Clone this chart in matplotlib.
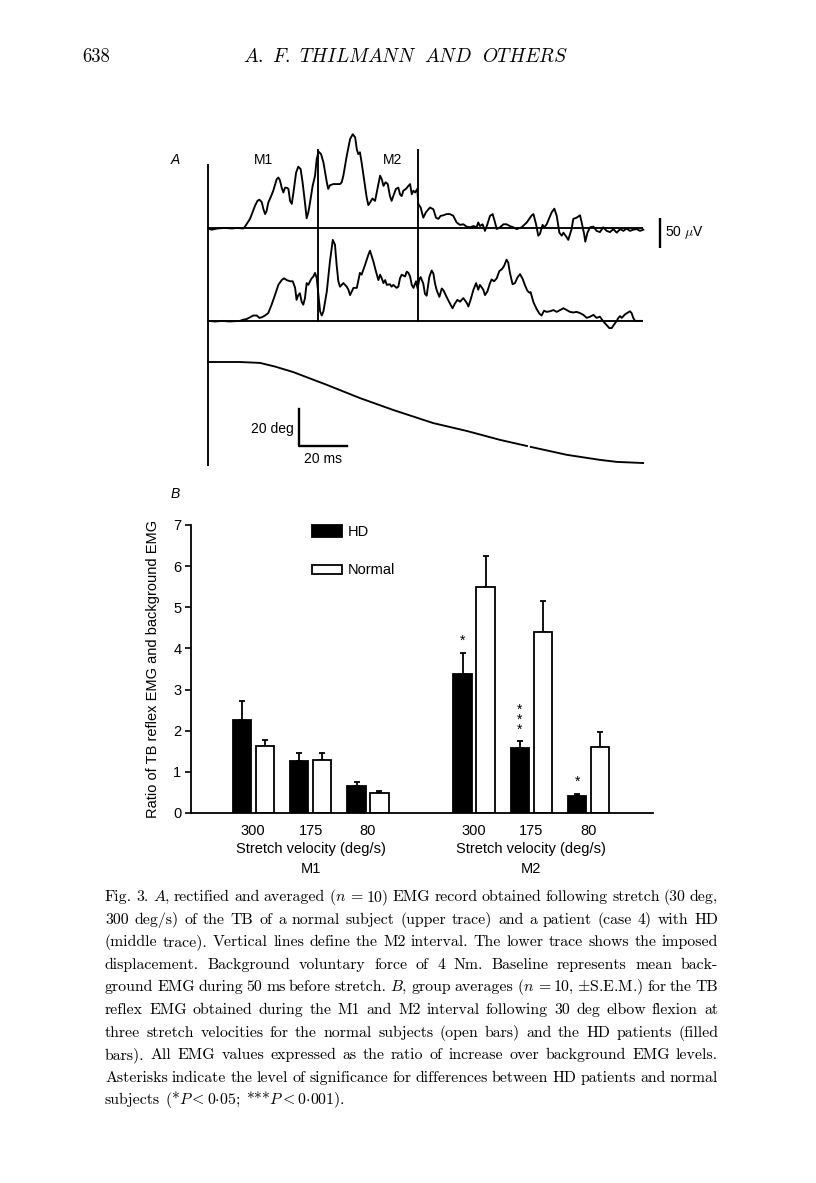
import matplotlib
matplotlib.use('Agg')
import matplotlib.pyplot as plt
from matplotlib.patches import Rectangle
import numpy as np

plt.rcParams['font.family'] = 'Liberation Sans'
plt.rcParams['mathtext.fontset'] = 'cm'

W, H = 816, 1183

# ---- A: traces (ms after stretch onset, value above baseline) ----
upper_trace = [  # uV, normal subject
    (0.1, 0), (1.5, -2), (4, 0), (7, 1), (10, 0), (12, 1), (14.7, 0), (15.4, 3), (17.5, 16),
    (19.6, 38), (20.6, 46), (21.4, 48), (22.4, 44), (23.1, 32), (23.8, 24), (24.4, 29),
    (25.1, 43), (26.1, 52), (27.2, 63), (28.6, 82), (29.3, 85), (30.0, 80), (30.7, 68),
    (31.4, 60), (32.1, 68), (32.8, 68), (33.5, 66), (34.2, 46), (34.9, 41), (35.6, 60),
    (36.7, 93), (37.6, 103), (38.6, 99), (39.4, 77), (40.4, 43), (41.1, 17), (41.8, 27),
    (42.5, 43), (43.6, 71), (44.6, 88), (45.3, 116), (46.1, 128), (47.1, 124), (48.1, 110),
    (49.5, 77), (50.1, 66), (50.8, 72), (52.2, 74), (53.6, 74), (55.0, 74), (55.7, 77),
    (56.4, 88), (57.8, 121), (59.2, 149), (60.3, 157), (61.3, 152), (62.0, 132), (62.6, 124),
    (63.3, 127), (64.0, 110), (65.0, 82), (66.1, 52), (66.8, 39), (67.5, 43), (68.5, 50),
    (69.6, 46), (70.6, 66), (71.7, 88), (72.4, 82), (73.1, 71), (74.0, 77), (74.9, 74),
    (75.8, 54), (76.5, 46), (77.2, 54), (78.3, 66), (79.3, 68), (80.0, 57), (80.7, 54),
    (81.4, 63), (82.5, 66), (83.5, 71), (84.2, 74), (84.9, 57), (85.6, 63), (86.3, 60),
    (87.2, 66), (87.6, 41), (88.6, 35), (89.7, 18), (90.8, 27), (92.5, 35), (93.9, 32),
    (95.0, 18), (96.0, 16), (96.9, 21), (98.1, 22), (99.4, 24), (100.8, 24), (102.2, 21),
    (103.6, 10), (105.0, 6), (106.4, 7), (107.8, 3), (109.2, 2), (110.6, 4), (111.9, 2),
    (112.6, 10), (113.3, 4), (114.4, 7), (115.4, -4), (116.4, 7), (117.5, 21), (118.6, 24),
    (119.6, 10), (120.3, -1), (121.7, 2), (123.1, 7), (124.4, 7), (125.8, 4), (127.2, 2),
    (128.6, -1), (130.7, 2), (132.8, 10), (134.9, 22), (135.6, 24), (136.7, 7), (137.6, -12),
    (138.3, -9), (139.4, 6), (140.1, 2), (141.1, 7), (143.2, 27), (144.3, 33), (145.3, 21),
    (146.4, -7), (147.4, -12), (148.1, -7), (149.5, -15), (150.1, -19), (151.5, -1),
    (152.2, 16), (153.6, 18), (155.0, 22), (155.7, 10), (156.7, -9), (157.2, -22), (158.1, -7),
    (159.2, 2), (160.6, 3), (161.9, -4), (163.3, -6), (164.7, 2), (166.1, -4), (167.5, -6),
    (168.9, -1), (170.3, -7), (171.7, -1), (173.1, -4), (174.4, 0), (175.8, -4), (177.2, -2),
    (178.6, -1), (180.0, -4), (181.4, -2),
]
middle_trace = [  # uV, HD patient
    (0.1, 1), (3, 0), (6, 1), (9, 0), (13.3, 1), (14.7, 3), (16.1, 4), (17.5, 7), (18.9, 10),
    (20.3, 10), (21.4, 6), (22.4, 7), (23.8, 10), (25.1, 14), (26.5, 28), (27.9, 44), (29.3, 61),
    (30.7, 69), (31.7, 72), (32.8, 69), (34.2, 67), (35.3, 67), (36.3, 56), (36.9, 36),
    (37.6, 44), (38.3, 47), (39.0, 33), (39.7, 28), (40.4, 39), (41.1, 64), (41.8, 61),
    (42.5, 67), (43.2, 72), (43.9, 75), (44.6, 81), (45.3, 72), (46.0, 44), (46.7, 17),
    (47.4, 10), (48.1, 17), (49.5, 50), (50.8, 100), (52.0, 136), (52.9, 128), (53.6, 94),
    (54.3, 67), (55.0, 58), (55.7, 61), (56.4, 64), (57.1, 61), (57.8, 58), (58.5, 53),
    (59.2, 44), (59.9, 50), (60.6, 56), (62.0, 56), (63.3, 81), (64.0, 78), (65.4, 94),
    (66.8, 111), (67.5, 118), (68.9, 100), (70.0, 83), (71.0, 69), (71.7, 78), (72.4, 72),
    (73.1, 64), (73.8, 69), (74.5, 61), (75.8, 62), (76.5, 58), (77.2, 61), (78.6, 56),
    (79.3, 58), (80.0, 72), (80.7, 78), (82.1, 75), (82.8, 83), (83.5, 81), (84.2, 75),
    (84.9, 61), (85.6, 56), (86.7, 67), (87.3, 55), (88.1, 71), (88.6, 74), (89.7, 63),
    (90.4, 46), (91.1, 43), (92.2, 74), (93.2, 85), (93.9, 80), (94.6, 63), (95.3, 52),
    (96.4, 41), (97.4, 55), (98.1, 52), (99.4, 41), (100.8, 30), (101.9, 22), (102.9, 30),
    (103.9, 36), (105.0, 33), (106.4, 39), (107.8, 31), (108.5, 25), (109.4, 36), (110.6, 53),
    (111.7, 64), (112.6, 53), (113.3, 61), (114.7, 53), (115.4, 44), (116.4, 50), (117.5, 64),
    (118.2, 70), (119.2, 67), (120.3, 72), (121.4, 84), (122.4, 87), (123.3, 92), (124.4, 103),
    (125.1, 98), (125.8, 81), (126.9, 62), (127.9, 64), (128.9, 73), (130.0, 79), (131.1, 71),
    (132.1, 60), (133.1, 51), (133.9, 48), (134.4, 49), (135.6, 32), (136.9, 21), (138.1, 13),
    (139.0, 10), (140.0, 18), (141.1, 16), (142.5, 17), (143.9, 19), (145.3, 16), (146.7, 19),
    (148.1, 22), (149.5, 19), (150.8, 16), (152.2, 15), (153.6, 16), (155.0, 14), (156.4, 11),
    (157.8, 6), (159.2, 8), (160.6, 11), (161.9, 6), (163.3, 8), (164.7, 0), (166.1, -6),
    (167.2, -11), (168.2, -11), (169.2, -5), (170.3, 1), (171.0, 6), (171.7, 9), (172.4, 6),
    (173.8, 12), (175.8, 17), (176.5, 14), (177.2, 6), (177.9, 1), (179.3, 1), (180.7, 1),
]
displacement = [  # deg
    (0, 0), (13.3, 0), (21.7, -0.5), (28, -2.5), (35.4, -5.4), (49.6, -12.4), (63.3, -19.5),
    (77.1, -25.9), (93.8, -33), (107.9, -37.3), (121.7, -42.1), (132.9, -45.4),
    (133.6, np.nan), (134.5, -45.9), (149.6, -50.2), (163.3, -52.9), (170.4, -54), (181.3, -54.6),
]
m_lines_ms = [45.8, 87.3]

# ---- B: group means and S.E.M. ----
velocities = ['300', '175', '80']
hd_m1 = [2.26, 1.26, 0.66]
hd_m1_sem = [0.46, 0.20, 0.09]
normal_m1 = [1.63, 1.29, 0.49]
normal_m1_sem = [0.14, 0.17, 0.04]
hd_m2 = [3.39, 1.59, 0.41]
hd_m2_sem = [0.50, 0.15, 0.06]
normal_m2 = [5.50, 4.41, 1.60]
normal_m2_sem = [0.75, 0.74, 0.38]
signif_m2 = ['*', '***', '*']

caption = [
    r"Fig. 3. $A$, rectified and averaged ($n$ = 10) EMG record obtained following stretch (30 deg,",
    r"300 deg/s) of the TB of a normal subject (upper trace) and a patient (case 4) with HD",
    r"(middle trace). Vertical lines define the M2 interval. The lower trace shows the imposed",
    r"displacement. Background voluntary force of 4 Nm. Baseline represents mean back-",
    r"ground EMG during 50 ms before stretch. $B$, group averages ($n$ = 10, $\pm$S.E.M.) for the TB",
    r"reflex EMG obtained during the M1 and M2 interval following 30 deg elbow flexion at",
    r"three stretch velocities for the normal subjects (open bars) and the HD patients (filled",
    r"bars). All EMG values expressed as the ratio of increase over background EMG levels.",
    r"Asterisks indicate the level of significance for differences between HD patients and normal",
    r"subjects (*$P<0{\cdot}05$; ***$P<0{\cdot}001$).",
]

fig = plt.figure(figsize=(W / 100, H / 100), dpi=100)


def px_axes(x0, y0, x1, y1):
    return fig.add_axes([x0 / W, 1 - y1 / H, (x1 - x0) / W, (y1 - y0) / H])


def fig_text(x, y, s, **kw):
    return fig.text(x / W, 1 - y / H, s, **kw)


# header
fig_text(82, 62, '638', family='cmr10', fontsize=13.5, va='baseline')
fig_text(243, 62, r'$A.\ F.\ THILMANN\ \ AND\ \ OTHERS$', fontsize=14, va='baseline')

# ---------------- panel A ----------------
lw = 1.35
axA = px_axes(150, 120, 720, 480)
axA.axis('off')
axA.set_xlim(-24.17, 213.33)
axA.set_ylim(-419.2, 180.8)
mid_offset = -155

ut, uv = np.array(upper_trace).T
mt, mv = np.array(middle_trace).T
axA.plot(ut, uv, color='k', lw=lw)
axA.plot(mt, mv + mid_offset, color='k', lw=lw)
axA.hlines([0, mid_offset], 0, ut[-1], color='k', lw=lw)
axA.vlines(0, -395.8, 107.5, color='k', lw=lw)
axA.vlines(m_lines_ms, mid_offset - 1, 132, color='k', lw=lw)
# 50 uV calibration
axA.vlines(188.3, -31.7, 18.3, color='k', lw=1.7)
axA.text(190.6, -7.5, r'50 $\mu$V', fontsize=10, va='center', ha='left')

axD = px_axes(150, 120, 720, 480)
axD.axis('off')
axD.set_xlim(-24.17, 213.33)
axD.set_ylim(-63.78, 130.8)
dt, dv = np.array(displacement).T
axD.plot(dt, dv, color='k', lw=lw)
axD.plot([37.9, 37.9, 57.9], [-25.4, -45.4, -45.4], color='k', lw=1.7)
axD.text(35.6, -36.2, '20 deg', fontsize=10, ha='right', va='center')
axD.text(47.9, -52.4, '20 ms', fontsize=10, ha='center', va='center')

fig_text(175, 160, 'A', fontsize=10, style='italic', ha='center', va='center')
fig_text(263, 160, 'M1', fontsize=10, ha='center', va='center')
fig_text(393, 160, 'M2', fontsize=10, ha='center', va='center')
fig_text(175, 494, 'B', fontsize=10, style='italic', ha='center', va='center')

# ---------------- panel B ----------------
axB = px_axes(191, 525, 653, 813)
x_m1 = np.arange(3)
x_m2 = x_m1 + 3.85
off, bw = 0.2, 0.32
for xs, hd, hd_e, nm, nm_e in [(x_m1, hd_m1, hd_m1_sem, normal_m1, normal_m1_sem),
                               (x_m2, hd_m2, hd_m2_sem, normal_m2, normal_m2_sem)]:
    axB.bar(xs - off, hd, bw, color='k', edgecolor='k', lw=1.3, zorder=2)
    axB.bar(xs + off, nm, bw, color='white', edgecolor='k', lw=1.3, zorder=2)
    axB.errorbar(xs - off, hd, yerr=[np.zeros(3), hd_e], fmt='none', ecolor='k',
                 elinewidth=1.3, capsize=2.5, capthick=1.3, zorder=1)
    axB.errorbar(xs + off, nm, yerr=[np.zeros(3), nm_e], fmt='none', ecolor='k',
                 elinewidth=1.3, capsize=2.5, capthick=1.3, zorder=1)

for xi, m, e, s in zip(x_m2 - off, hd_m2, hd_m2_sem, signif_m2):
    axB.text(xi, m + e + 0.12, '\n'.join(s), ha='center', va='bottom',
             fontsize=10, linespacing=0.6)

axB.set_xlim(-1.086, 6.97)
axB.set_ylim(0, 7)
axB.set_yticks(range(8))
axB.set_xticks(np.concatenate([x_m1, x_m2]))
axB.set_xticklabels(velocities * 2)
axB.tick_params(axis='x', length=0, pad=8, labelsize=10.5)
axB.tick_params(axis='y', length=4, width=1.2, pad=3, labelsize=10.5)
for side in ['top', 'right']:
    axB.spines[side].set_visible(False)
for side in ['left', 'bottom']:
    axB.spines[side].set_linewidth(1.3)
axB.set_ylabel('Ratio of TB reflex EMG and background EMG', fontsize=10.5)
axB.yaxis.set_label_coords(-0.068, 0.5)

for xc, grp in [(x_m1[1], 'M1'), (x_m2[1], 'M2')]:
    axB.text(xc, -0.88, 'Stretch velocity (deg/s)', ha='center', va='center',
             fontsize=10.5, clip_on=False)
    axB.text(xc, -1.36, grp, ha='center', va='center', fontsize=10.5, clip_on=False)

# legend
axB.add_patch(Rectangle((1.03, 6.71), 0.52, 0.29, facecolor='k', edgecolor='k',
                        lw=1.3, clip_on=False))
axB.add_patch(Rectangle((1.03, 5.81), 0.52, 0.22, facecolor='white', edgecolor='k',
                        lw=1.3, clip_on=False))
axB.text(1.655, 6.84, 'HD', fontsize=10.5, va='center', clip_on=False)
axB.text(1.655, 5.90, 'Normal', fontsize=10.5, va='center', clip_on=False)

# ---------------- caption, justified ----------------
renderer = fig.canvas.get_renderer()
x0, x1 = 105, 718
y_first, step, size = 901, 22.6, 11.4
for i, line in enumerate(caption):
    words = line.split(' ')
    txts = [fig_text(0, y_first + i * step, w, family='cmr10', fontsize=size,
                     va='baseline') for w in words]
    widths = [t.get_window_extent(renderer).width for t in txts]
    if i == len(caption) - 1:
        gap = size * 100 / 72 * 0.33
    else:
        gap = (x1 - x0 - sum(widths)) / (len(words) - 1)
    x = x0
    for t, wd in zip(txts, widths):
        t.set_x(x / W)
        x += wd + gap

fig.savefig('out.png', dpi=100, facecolor='white')
